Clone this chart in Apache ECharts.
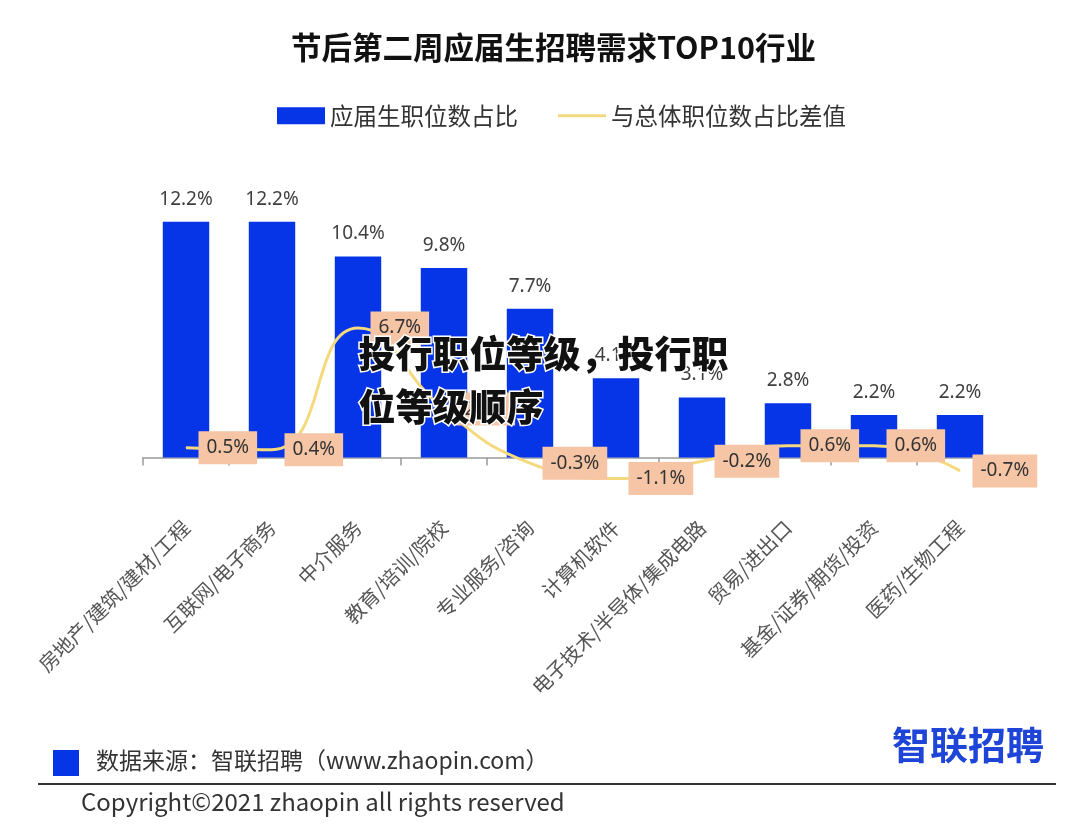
<!DOCTYPE html>
<html>
<head>
<meta charset="utf-8">
<script src="https://cdn.jsdelivr.net/npm/echarts@6/dist/echarts.min.js"></script>
<style>
html,body{margin:0;padding:0;background:#fff;}
#chart{width:1080px;height:828px;}
</style>
</head>
<body>
<div id="chart"></div>
<script>
const categories = ['房地产/建筑/建材/工程','互联网/电子商务','中介服务','教育/培训/院校','专业服务/咨询','计算机软件','电子技术/半导体/集成电路','贸易/进出口','基金/证券/期货/投资','医药/生物工程'];
const shareValues = [12.2, 12.2, 10.4, 9.8, 7.7, 4.1, 3.1, 2.8, 2.2, 2.2];
const diffValues = [0.5, 0.4, 6.7, 2.5, -0.3, -1.1, -0.2, 0.6, 0.6, -0.7];
const seriesNames = ['应届生职位数占比', '与总体职位数占比差值'];
const titleText = '节后第二周应届生招聘需求TOP10行业';
const overlayText = ['投行职位等级，投行职', '位等级顺序'];

const FONT = '"Noto Sans CJK SC", "Microsoft YaHei", sans-serif';
const NUMFONT = '"Noto Sans", "Noto Sans CJK SC", sans-serif';
const chart = echarts.init(document.getElementById('chart'));
chart.setOption({
  backgroundColor: '#ffffff',
  textStyle: { fontFamily: FONT },
  title: {
    text: titleText, left: 286, top: 27,
    textStyle: { fontSize: 30.5, fontWeight: 'bold', color: '#111', fontFamily: FONT }
  },
  legend: {
    top: 99, left: 272, itemGap: 40, itemWidth: 48, itemHeight: 17,
    textStyle: { fontSize: 23.5, color: '#333', fontFamily: FONT },
    data: [
      { name: seriesNames[0], icon: 'rect' },
      { name: seriesNames[1], icon: 'path://M0,0h48v3h-48z' }
    ]
  },
  grid: { left: 143, right: 77, top: 187, height: 309 },
  xAxis: {
    type: 'category', data: categories,
    axisLine: { onZero: true, lineStyle: { color: '#9a9a9a', width: 1.5 } },
    axisTick: { show: true, length: 8, lineStyle: { color: '#9a9a9a', width: 1.5 } },
    axisLabel: { rotate: 45, margin: 28, fontSize: 20, color: '#555', interval: 0, fontFamily: FONT }
  },
  yAxis: { type: 'value', min: -2, max: 14, show: false, splitLine: { show: false } },
  series: [
    {
      name: seriesNames[0], type: 'bar', data: shareValues, barWidth: '54%',
      itemStyle: { color: '#0535E6' },
      label: { show: true, position: 'top', distance: 13, fontSize: 19, color: '#404040',
        formatter: p => p.value.toFixed(1) + '%', fontFamily: NUMFONT },
      z: 2
    },
    {
      name: seriesNames[1], type: 'line', data: diffValues, smooth: 0.5,
      symbol: 'circle', symbolSize: 1, showSymbol: true,
      lineStyle: { color: '#F5D97E', width: 3 },
      itemStyle: { color: '#F5D97E' },
      label: { show: true, position: 'right', distance: 12, fontSize: 19, color: '#333',
        backgroundColor: '#F6C5A5', padding: [7, 8, 7, 8],
        formatter: p => p.value.toFixed(1) + '%', fontFamily: NUMFONT },
      z: 3
    }
  ],
  graphic: [
    { type: 'text', left: 357, top: 334, z: 100,
      style: { text: overlayText[0], font: '900 37px ' + FONT, fill: '#111', stroke: '#fff', lineWidth: 3 } },
    { type: 'text', left: 357, top: 387, z: 100,
      style: { text: overlayText[1], font: '900 37px ' + FONT, fill: '#111', stroke: '#fff', lineWidth: 3 } },
    { type: 'rect', shape: { x: 53, y: 750, width: 26, height: 26 }, style: { fill: '#0535E6' } },
    { type: 'text', left: 96, top: 749,
      style: { text: '数据来源：智联招聘（www.zhaopin.com）', font: '23px ' + FONT, fill: '#333' } },
    { type: 'line', shape: { x1: 38, y1: 784, x2: 1056, y2: 784 }, style: { stroke: '#333', lineWidth: 2 } },
    { type: 'text', left: 81, top: 790,
      style: { text: 'Copyright©2021 zhaopin all rights reserved', font: '24px ' + FONT, fill: '#333' } },
    { type: 'text', left: 892, top: 726,
      style: { text: '智联招聘', font: 'bold 38px ' + FONT, fill: '#1E44D8' } }
  ]
});
</script>
</body>
</html>
